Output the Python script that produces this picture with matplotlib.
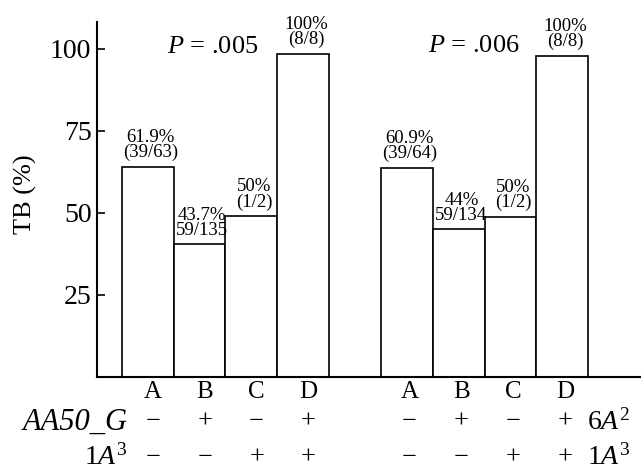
import matplotlib
matplotlib.use("Agg")
import matplotlib.pyplot as plt
from matplotlib.transforms import blended_transform_factory

plt.rcParams['font.family'] = ['Liberation Serif', 'DejaVu Serif']
plt.rcParams['mathtext.fontset'] = 'custom'
plt.rcParams['mathtext.rm'] = 'Liberation Serif'
plt.rcParams['mathtext.it'] = 'Liberation Serif:italic'

# ---- data ----
categories = ['A', 'B', 'C', 'D']
group1_values = [64.0, 40.5, 49.0, 98.5]
group2_values = [63.7, 45.0, 48.8, 97.9]
group1_labels = ['61.9%\n(39/63)', '43.7%\n59/135', '50%\n(1/2)', '100%\n(8/8)']
group2_labels = ['60.9%\n(39/64)', '44%\n59/134', '50%\n(1/2)', '100%\n(8/8)']
p_values = ['.005', '.006']
group1_row1 = ['−', '+', '−', '+']
group1_row2 = ['−', '−', '+', '+']
group2_row1 = ['−', '+', '−', '+']
group2_row2 = ['−', '−', '+', '+']
yticks = [25, 50, 75, 100]

x1 = [0, 1, 2, 3]
x2 = [5, 6, 7, 8]

fig = plt.figure(figsize=(6.41, 4.72), dpi=100)
ax = fig.add_axes([97/641, (472-377)/472, 1 - 97/641, (377-22)/472])

for xs, vals, labs in [(x1, group1_values, group1_labels), (x2, group2_values, group2_labels)]:
    ax.bar(xs, vals, width=1.0, color='white', edgecolor='black', linewidth=1.2, zorder=2)
    for x, v, t in zip(xs, vals, labs):
        ax.annotate(t, (x, v), xytext=(2, 4), textcoords='offset points',
                    ha='center', va='bottom', fontsize=13.5, linespacing=0.85)

ax.set_xlim(-0.98, 9.52)
ax.set_ylim(0, 108.2)
ax.set_yticks(yticks)
ax.set_yticklabels([str(t) for t in yticks], fontsize=20)
ax.tick_params(axis='y', direction='in', length=6, width=1.2, pad=4)
ax.set_xticks([])
for s in ['top', 'right']:
    ax.spines[s].set_visible(False)
ax.spines['left'].set_linewidth(1.5)
ax.spines['bottom'].set_linewidth(1.5)
fig.text(25/641, 1 - 194/472, 'TB (%)', rotation=90, ha='center', va='center', fontsize=19)

# P values
ax.text(1.25, 100.5, r'$P$ = ' + p_values[0], fontsize=19, ha='center', va='center')
ax.text(6.3, 101, r'$P$ = ' + p_values[1], fontsize=19, ha='center', va='center')

# bottom rows
trans = blended_transform_factory(ax.transData, fig.transFigure)
y_letters = 1 - 392/472
y_row1 = 1 - 422/472
y_row2 = 1 - 458/472
y_base1 = 1 - 430/472
y_base2 = 1 - 465/472
for xs, r1, r2, off in [(x1, group1_row1, group1_row2, 0.1), (x2, group2_row1, group2_row2, 0.05)]:
    for x, c, a, b in zip(xs, categories, r1, r2):
        ax.text(x + off, y_letters, c, transform=trans, ha='center', va='center', fontsize=18, clip_on=False)
        ax.text(x + off, y_row1, a, transform=trans, ha='center', va='center', fontsize=19, clip_on=False)
        ax.text(x + off, y_row2, b, transform=trans, ha='center', va='center', fontsize=19, clip_on=False)

fig.text(128/641, y_base1, 'AA50_G', ha='right', va='baseline', fontsize=22, style='italic')
fig.text(128/641, y_base2, '$\\mathit{1A}^3$', ha='right', va='baseline', fontsize=20)
fig.text(587/641, y_base1, '$\\mathit{6A}^2$', ha='left', va='baseline', fontsize=20)
fig.text(587/641, y_base2, '$\\mathit{1A}^3$', ha='left', va='baseline', fontsize=20)

fig.savefig('out.png', dpi=100)
